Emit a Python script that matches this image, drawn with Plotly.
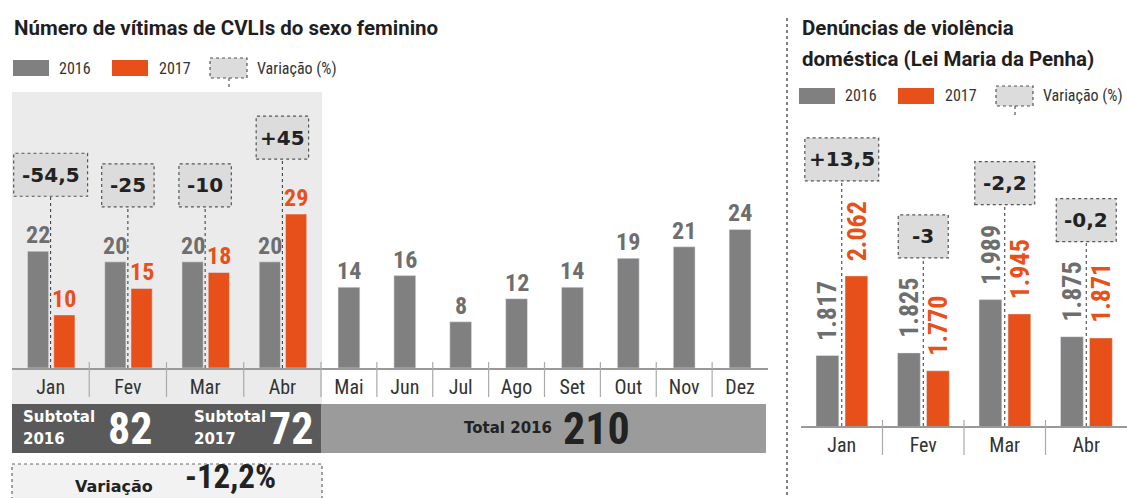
import plotly.graph_objects as go

# ---------------- data ----------------
months = ["Jan", "Fev", "Mar", "Abr", "Mai", "Jun", "Jul", "Ago", "Set", "Out", "Nov", "Dez"]
cvli_2016 = [22, 20, 20, 20, 14, 16, 8, 12, 14, 19, 21, 24]
cvli_2017 = [10, 15, 18, 29]

dv_months = ["Jan", "Fev", "Mar", "Abr"]
dv_2016 = [1817, 1825, 1989, 1875]
dv_2017 = [2062, 1770, 1945, 1871]

title_left = "Número de vítimas de CVLIs do sexo feminino"
title_right = ["Denúncias de violência", "doméstica (Lei Maria da Penha)"]

# ---------------- styles ----------------
W, H = 1127, 498
GRAY = "#808080"
ORANGE = "#e8501a"
LABEL_GRAY = "#6e6e6e"
DARK = "#1f1f1f"
SHADE = "#ebebeb"
BOXFILL = "#dcdcdc"
COND = "Roboto Condensed, Liberation Sans Narrow, DejaVu Sans Condensed, Roboto, sans-serif"
WIDE = "DejaVu Sans, Verdana, sans-serif"
TITLE = "Roboto, Open Sans, sans-serif"


def px(x):
    return x / W


def py(y):
    return 1 - y / H


def fmt_var(a, b):
    p = round((b - a) / a * 100, 1)
    if p == int(p):
        return f"{int(p):+d}"
    return f"{p:+.1f}".replace(".", ",")


def fmt_thousand(v):
    return f"{v:,}".replace(",", ".")


def box_width(t):
    w = sum(7.6 if c == "," else 8.6 if c in "+-" else 13.9 for c in t)
    return max(50, w + 16)


# axis geometry (pixels)
L_X = (12, 321)
M_X = (321, 768)
R_X = (801, 1127)
LM_BASE, LM_TOP = 368, 92
R_BASE, R_TOP = 426, 130
L_RANGE = [0, 52]
M_RANGE = [0, 47.8]
R_RANGE = [1600, 2511]
pxu_L = (LM_BASE - LM_TOP) / (L_RANGE[1] - L_RANGE[0])
pxu_R = (R_BASE - R_TOP) / (R_RANGE[1] - R_RANGE[0])

n_left = len(cvli_2017)

fig = go.Figure()
fig.add_trace(go.Bar(x=months[:n_left], y=cvli_2016[:n_left], xaxis="x", yaxis="y",
                     marker_color=GRAY, width=0.275, offset=-0.30, name="2016"))
fig.add_trace(go.Bar(x=months[:n_left], y=cvli_2017, xaxis="x", yaxis="y",
                     marker_color=ORANGE, width=0.275, offset=0.04, name="2017"))
fig.add_trace(go.Bar(x=months[n_left:], y=cvli_2016[n_left:], xaxis="x2", yaxis="y2",
                     marker_color=GRAY, width=0.39, offset=-0.195, name="2016"))
fig.add_trace(go.Bar(x=dv_months, y=dv_2016, xaxis="x3", yaxis="y3",
                     marker_color=GRAY, width=0.28, offset=-0.316, name="2016"))
fig.add_trace(go.Bar(x=dv_months, y=dv_2017, xaxis="x3", yaxis="y3",
                     marker_color=ORANGE, width=0.28, offset=0.04, name="2017"))

shapes = []
ann = []


def text(x, y, s, size, color=DARK, bold=False, xanchor="left", yanchor="middle", family=COND):
    ann.append(dict(xref="paper", yref="paper", x=px(x), y=py(y), text=f"<b>{s}</b>" if bold else s,
                    showarrow=False, xanchor=xanchor, yanchor=yanchor,
                    font=dict(size=size, color=color, family=family)))


def prect(x0, y0, x1, y1, fill, line=None, dash=None, layer="below"):
    shapes.append(dict(type="rect", xref="paper", yref="paper", x0=px(x0), x1=px(x1), y0=py(y0), y1=py(y1),
                       fillcolor=fill, layer=layer,
                       line=dict(width=1.2 if line else 0, color=line or fill, dash=dash or "solid")))


def pline(x0, y0, x1, y1, color, width=1, dash="solid"):
    shapes.append(dict(type="line", xref="paper", yref="paper", x0=px(x0), x1=px(x1), y0=py(y0), y1=py(y1),
                       line=dict(color=color, width=width, dash=dash)))


# shaded region for the compared months
prect(12, 92, 322, 404, SHADE)

# titles
text(12, 28, title_left, 20.5, bold=True, family=TITLE)
text(800, 28, title_right[0], 20.5, bold=True, family=TITLE)
text(800, 59, title_right[1], 20.5, bold=True, family=TITLE)


# legends
def legend(x, y):
    prect(x, y - 8, x + 36, y + 8, GRAY, layer="above")
    text(x + 44, y, "2016", 16, color="#333")
    prect(x + 99, y - 8, x + 135, y + 8, ORANGE, layer="above")
    text(x + 144, y, "2017", 16, color="#333")
    prect(x + 197, y - 10, x + 234, y + 10, BOXFILL, line="#555", dash="dot", layer="above")
    pline(x + 216, y + 10, x + 216, y + 21, "#555", 1.2, "dot")
    text(x + 242, y, "Variação (%)", 16, color="#333")


legend(13, 68)
legend(799, 96)

# right separator
pline(787, 18, 787, 498, "#555", 1.5, "3px,3px")


# variation boxes with connectors
def var_boxes(xref, yref, a_vals, b_vals, gap_px, pxu, base):
    for i, (a, b) in enumerate(zip(a_vals, b_vals)):
        t = fmt_var(a, b)
        top = max(a, b)
        w = box_width(t)
        shapes.append(dict(type="line", xref=xref, yref=yref, x0=i, x1=i, y0=base, y1=top + gap_px / pxu,
                           line=dict(color="#333", width=1, dash="dot"), layer="above"))
        shapes.append(dict(type="rect", xref=xref, yref=yref, xsizemode="pixel", xanchor=i, x0=-w / 2, x1=w / 2,
                           ysizemode="pixel", yanchor=top, y0=gap_px, y1=gap_px + 43,
                           fillcolor=BOXFILL, line=dict(color="#555", width=1.2, dash="dot"), layer="above"))
        ann.append(dict(xref=xref, yref=yref, x=i, y=top, yshift=gap_px + 21.5, text=f"<b>{t}</b>",
                        showarrow=False, xanchor="center", yanchor="middle",
                        font=dict(size=20, color="#222", family=WIDE)))


var_boxes("x", "y", cvli_2016[:n_left], cvli_2017, 55, pxu_L, 0)
var_boxes("x3", "y3", dv_2016, dv_2017, 95, pxu_R, R_RANGE[0])


# value labels
def value_labels(xref, yref, vals, off, wid, color, angle=0, shift=0, size=24, fmt=str):
    for i, v in enumerate(vals):
        ann.append(dict(xref=xref, yref=yref, x=i + off + wid / 2, y=v, yshift=shift, text=f"<b>{fmt(v)}</b>",
                        showarrow=False, xanchor="center", yanchor="bottom", textangle=angle,
                        font=dict(size=size, color=color, family=COND)))


value_labels("x", "y", cvli_2016[:n_left], -0.30, 0.275, LABEL_GRAY)
value_labels("x", "y", cvli_2017, 0.04, 0.275, ORANGE)
value_labels("x2", "y2", cvli_2016[n_left:], -0.195, 0.39, LABEL_GRAY)
value_labels("x3", "y3", dv_2016, -0.316, 0.28, LABEL_GRAY, angle=-90, shift=13, size=26, fmt=fmt_thousand)
value_labels("x3", "y3", dv_2017, 0.04, 0.28, ORANGE, angle=-90, shift=13, size=26, fmt=fmt_thousand)

# month separators
for i in range(n_left - 1):
    shapes.append(dict(type="line", xref="x", yref="paper", x0=i + 0.5, x1=i + 0.5, y0=py(362), y1=py(397),
                       line=dict(color="#aaa", width=1.2)))
pline(321, 362, 321, 397, "#aaa", 1.2)
for i in range(len(months) - n_left - 1):
    shapes.append(dict(type="line", xref="x2", yref="paper", x0=i + 0.5, x1=i + 0.5, y0=py(362), y1=py(397),
                       line=dict(color="#aaa", width=1.2)))
for i in range(len(dv_months) - 1):
    shapes.append(dict(type="line", xref="x3", yref="paper", x0=i + 0.5, x1=i + 0.5, y0=py(420), y1=py(455),
                       line=dict(color="#aaa", width=1.2)))

# subtotal band
sub16 = sum(cvli_2016[:n_left])
sub17 = sum(cvli_2017)
tot16 = sum(cvli_2016)
var_tot = f"{(sub17 - sub16) / sub16 * 100:.1f}".replace(".", ",") + "%"

prect(12, 404, 321, 453, "#5a5a5a", layer="above")
prect(321, 404, 766, 453, "#9b9b9b", layer="above")
text(21, 417, "Subtotal", 15, color="white", bold=True, family=WIDE)
text(21, 439, "2016", 15, color="white", bold=True, family=WIDE)
text(130, 429, str(sub16), 44, color="white", bold=True, xanchor="center")
text(192, 417, "Subtotal", 15, color="white", bold=True, family=WIDE)
text(192, 439, "2017", 15, color="white", bold=True, family=WIDE)
text(291, 429, str(sub17), 44, color="white", bold=True, xanchor="center")
text(508, 428, "Total 2016", 15, color="#222", bold=True, xanchor="center", family=WIDE)
text(596, 429, str(tot16), 44, color="#222", bold=True, xanchor="center")

prect(12, 464, 322, 520, "#f2f2f2", line="#666", dash="dot", layer="above")
text(114, 486, "Variação", 16, color="#222", bold=True, xanchor="center", family=WIDE)
text(230, 498, var_tot, 33, color="#222", bold=True, xanchor="center", yanchor="bottom")

axis_common = dict(type="category", showline=True, linecolor="#999", linewidth=1.5, showgrid=False,
                   zeroline=False, ticks="", tickfont=dict(size=20, color="#333", family=COND))
yaxis_common = dict(visible=False, showgrid=False, zeroline=False)

fig.update_layout(
    width=W, height=H, margin=dict(l=0, r=0, t=0, b=0),
    paper_bgcolor="white", plot_bgcolor="rgba(0,0,0,0)",
    showlegend=False, barmode="overlay",
    xaxis=dict(domain=[px(L_X[0]), px(L_X[1])], anchor="y", **axis_common),
    xaxis2=dict(domain=[px(M_X[0]), px(M_X[1])], anchor="y2", **axis_common),
    xaxis3=dict(domain=[px(R_X[0]), px(R_X[1])], anchor="y3", **axis_common),
    yaxis=dict(domain=[py(LM_BASE), py(LM_TOP)], range=L_RANGE, anchor="x", **yaxis_common),
    yaxis2=dict(domain=[py(LM_BASE), py(LM_TOP)], range=M_RANGE, anchor="x2", **yaxis_common),
    yaxis3=dict(domain=[py(R_BASE), py(R_TOP)], range=R_RANGE, anchor="x3", **yaxis_common),
    shapes=shapes, annotations=ann,
    font=dict(family=COND),
)

fig.write_html("out.html", config={"displayModeBar": False},
               post_script="document.body.style.margin='0px';")
